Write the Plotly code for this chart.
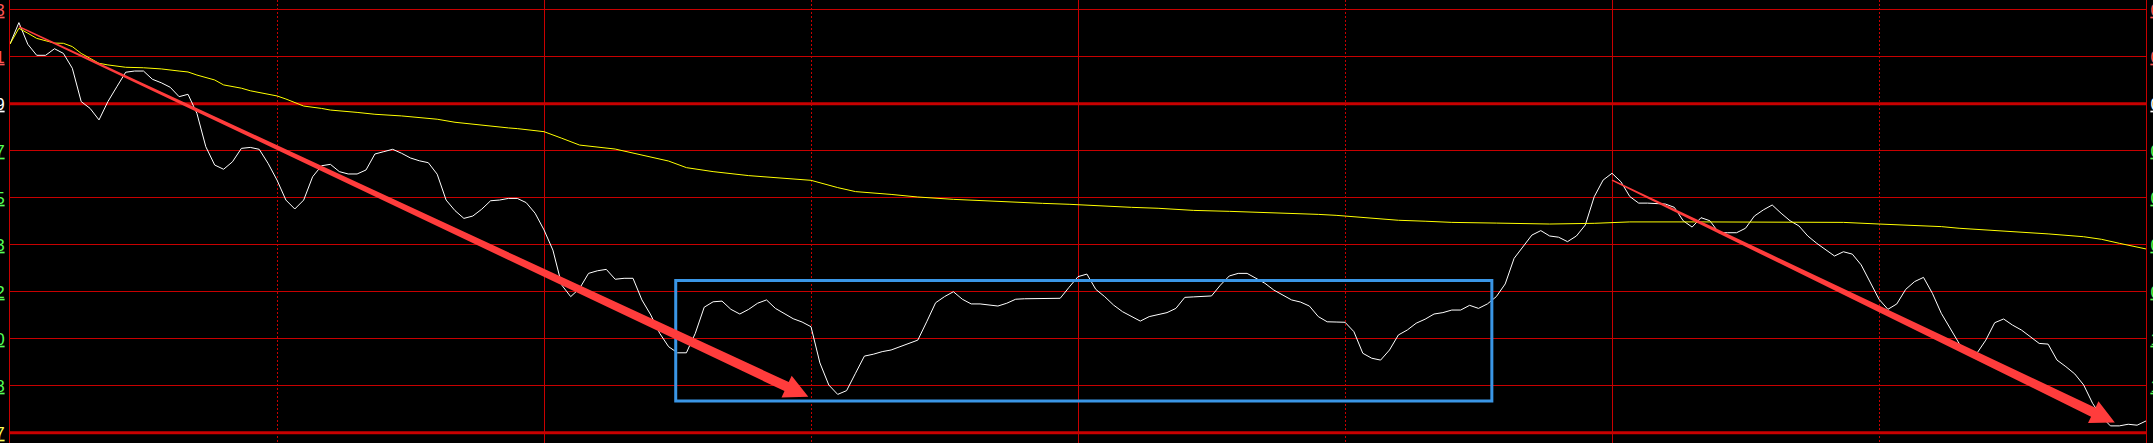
import math
import plotly.graph_objects as go

# ---------------- data ----------------
# minute index of the trading day (0 = open, 240 = close)
price_minutes = list(range(241))
price_values = [
    10.2154, 10.2245, 10.2153, 10.2106, 10.2106, 10.2134, 10.2114, 10.2051, 10.1909, 10.1880,
    10.1831, 10.1909, 10.1972, 10.2034, 10.2039, 10.2039, 10.2004, 10.1989, 10.1970, 10.1930,
    10.1940, 10.1859, 10.1717, 10.1639, 10.1621, 10.1653, 10.1710, 10.1714, 10.1706, 10.1646,
    10.1575, 10.1490, 10.1452, 10.1490, 10.1589, 10.1636, 10.1642, 10.1611, 10.1601, 10.1601,
    10.1618, 10.1686, 10.1696, 10.1706, 10.1689, 10.1669, 10.1657, 10.1649, 10.1600, 10.1490,
    10.1445, 10.1412, 10.1422, 10.1451, 10.1487, 10.1490, 10.1497, 10.1497, 10.1479, 10.1434,
    10.1363, 10.1277, 10.1128, 10.1079, 10.1114, 10.1178, 10.1189, 10.1195, 10.1153, 10.1157,
    10.1157, 10.1065, 10.1001, 10.0923, 10.0866, 10.0840, 10.0840, 10.0923, 10.1034, 10.1057,
    10.1060, 10.1025, 10.1005, 10.1025, 10.1051, 10.1065, 10.1029, 10.1008, 10.0985, 10.0971,
    10.0951, 10.0797, 10.0703, 10.0663, 10.0679, 10.0753, 10.0826, 10.0834, 10.0845, 10.0852,
    10.0866, 10.0877, 10.0894, 10.0972, 10.1053, 10.1079, 10.1100, 10.1068, 10.1048, 10.1048,
    10.1043, 10.1039, 10.1051, 10.1068, 10.1070, 10.1070, 10.1070, 10.1070, 10.1072, 10.1119,
    10.1164, 10.1175, 10.1110, 10.1079, 10.1043, 10.1015, 10.0994, 10.0975, 10.0994, 10.1001,
    10.1011, 10.1029, 10.1076, 10.1078, 10.1079, 10.1082, 10.1128, 10.1167, 10.1178, 10.1178,
    10.1157, 10.1136, 10.1107, 10.1086, 10.1065, 10.1056, 10.1039, 10.0994, 10.0972, 10.0971,
    10.0970, 10.0930, 10.0838, 10.0817, 10.0809, 10.0852, 10.0916, 10.0937, 10.0966, 10.0983,
    10.1005, 10.1011, 10.1022, 10.1022, 10.1042, 10.1029, 10.1048, 10.1079, 10.1133, 10.1242,
    10.1289, 10.1341, 10.1360, 10.1337, 10.1332, 10.1313, 10.1337, 10.1384, 10.1504, 10.1575,
    10.1604, 10.1568, 10.1505, 10.1477, 10.1477, 10.1476, 10.1473, 10.1459, 10.1402, 10.1375,
    10.1415, 10.1402, 10.1351, 10.1351, 10.1351, 10.1370, 10.1422, 10.1448, 10.1469, 10.1434,
    10.1402, 10.1380, 10.1337, 10.1306, 10.1277, 10.1252, 10.1270, 10.1260, 10.1214, 10.1143,
    10.1068, 10.1025, 10.1048, 10.1110, 10.1143, 10.1161, 10.1093, 10.1008, 10.0944, 10.0880,
    10.0831, 10.0838, 10.0894, 10.0968, 10.0984, 10.0958, 10.0937, 10.0908, 10.0880, 10.0877,
    10.0809, 10.0781, 10.0750, 10.0703, 10.0625, 10.0568, 10.0529, 10.0529, 10.0536, 10.0532,
    10.0550,
]

avg_minutes = [0, 1, 2, 3, 5, 6, 7, 8, 9, 10, 11, 13, 15, 17, 19, 20, 21, 23, 24, 26,
               27, 29, 30, 31, 32, 33, 35, 36, 39, 41, 44, 46, 48, 50, 53, 56, 57, 60, 62, 64,
               68, 71, 74, 76, 79, 83, 86, 90, 93, 95, 99, 102, 106, 111, 116, 119, 123, 126, 129, 131,
               133, 137, 141, 144, 147, 149, 152, 155, 156, 159, 162, 167, 173, 178, 182, 190, 206, 210, 213, 217,
               219, 222, 225, 229, 233, 235, 237, 240]
avg_values = [10.2154, 10.2221, 10.2200, 10.2178, 10.2158, 10.2157, 10.2143, 10.2114, 10.2093, 10.2072,
              10.2065, 10.2055, 10.2053, 10.2048, 10.2039, 10.2035, 10.2022, 10.2001, 10.1980, 10.1966,
              10.1955, 10.1941, 10.1933, 10.1920, 10.1904, 10.1890, 10.1880, 10.1873, 10.1863, 10.1855,
              10.1848, 10.1842, 10.1834, 10.1821, 10.1808, 10.1797, 10.1794, 10.1781, 10.1753, 10.1724,
              10.1707, 10.1682, 10.1656, 10.1628, 10.1611, 10.1594, 10.1585, 10.1574, 10.1543, 10.1526,
              10.1514, 10.1503, 10.1493, 10.1483, 10.1476, 10.1472, 10.1463, 10.1459, 10.1455, 10.1451,
              10.1446, 10.1442, 10.1438, 10.1434, 10.1429, 10.1425, 10.1417, 10.1408, 10.1404, 10.1400,
              10.1395, 10.1392, 10.1388, 10.1391, 10.1397, 10.1397, 10.1395, 10.1388, 10.1383, 10.1377,
              10.1370, 10.1363, 10.1355, 10.1346, 10.1334, 10.1323, 10.1306, 10.1282]

prev_close = 10.19
grid_prices = [10.23, 10.21, 10.19, 10.17, 10.15, 10.13, 10.11, 10.09, 10.07, 10.05]
left_tick_text = ["10.23", "10.21", "10.19", "10.17", "10.15", "10.13", "10.12", "10.10", "10.08", "10.07"]
right_tick_text = ["0.40%", "0.20%", "0.00%", "0.20%", "0.40%", "0.60%", "0.80%", "1.00%", "1.20%", ""]

# annotations drawn on the chart: (start minute, start price, end minute, end price)
arrow_1 = (1, 10.2228, 89.7, 10.0653)
arrow_2 = (180, 10.1575, 236.5, 10.0543)
box_minutes = (74.8, 166.5)
box_prices = (10.0635, 10.1148)

# ---------------- styling ----------------
W, H = 2153, 443
ML, MR, MT, MB = 10, 7, 0, 0
x_range = [0, 240]
y_range = [10.04562, 10.23413]
GRID = "#c80000"
RED_T, WHITE_T, GREEN_T, YEL_T = "#ff5555", "#ffffff", "#55ff55", "#ffff55"
left_colors = [RED_T, RED_T, WHITE_T] + [GREEN_T] * 6 + [YEL_T]
right_colors = [RED_T, RED_T, WHITE_T] + [GREEN_T] * 7

plot_w = W - ML - MR
plot_h = H - MT - MB
kx = plot_w / (x_range[1] - x_range[0])
ky = plot_h / (y_range[1] - y_range[0])


def to_px(t, p):
    return (t - x_range[0]) * kx, (p - y_range[0]) * ky


def to_data(x, y):
    return x / kx + x_range[0], y / ky + y_range[0]


def arrow_path(a, w0=1.5, w1=10.0, head_len=24.0, head_half=12.0):
    t0, p0, t1, p1 = a
    x0, y0 = to_px(t0, p0)
    x1, y1 = to_px(t1, p1)
    dx, dy = x1 - x0, y1 - y0
    L = math.hypot(dx, dy)
    ux, uy = dx / L, dy / L
    nx, ny = -uy, ux
    bx, by = x1 - ux * head_len, y1 - uy * head_len
    pts = [
        (x0 + nx * w0 / 2, y0 + ny * w0 / 2),
        (bx + nx * w1 / 2, by + ny * w1 / 2),
        (bx + nx * head_half, by + ny * head_half),
        (x1, y1),
        (bx - nx * head_half, by - ny * head_half),
        (bx - nx * w1 / 2, by - ny * w1 / 2),
        (x0 - nx * w0 / 2, y0 - ny * w0 / 2),
    ]
    d = []
    for i, (x, y) in enumerate(pts):
        t, p = to_data(x, y)
        d.append(("M" if i == 0 else "L") + f"{t:.5f},{p:.6f}")
    return " ".join(d) + " Z"


def styled(texts, colors):
    return [f'<span style="color:{c}"><u>{t}</u></span>' if t else "" for t, c in zip(texts, colors)]


fig = go.Figure()
fig.add_trace(go.Scatter(x=price_minutes, y=price_values, mode="lines",
                         line=dict(color="#ffffff", width=1), hoverinfo="skip", showlegend=False))
fig.add_trace(go.Scatter(x=avg_minutes, y=avg_values, mode="lines", yaxis="y2",
                         line=dict(color="#ffff00", width=1), hoverinfo="skip", showlegend=False))

shapes = []
for level in (prev_close, grid_prices[-1]):
    shapes.append(dict(type="line", xref="paper", x0=0, x1=1, yref="y", y0=level, y1=level,
                       line=dict(color=GRID, width=3), layer="between"))
shapes.append(dict(type="rect", xref="x", yref="y", x0=box_minutes[0], x1=box_minutes[1],
                   y0=box_prices[0], y1=box_prices[1], line=dict(color="#3a96e6", width=3),
                   fillcolor="rgba(0,0,0,0)", layer="above"))
for a in (arrow_1, arrow_2):
    shapes.append(dict(type="path", xref="x", yref="y", path=arrow_path(a),
                       fillcolor="#ff3c3c", line=dict(width=0), layer="above"))

tick_font = dict(family="Liberation Sans", size=17, color="#ffffff")
fig.update_layout(
    width=W, height=H, template="none",
    margin=dict(l=ML, r=MR, t=MT, b=MB, pad=0),
    paper_bgcolor="#000000", plot_bgcolor="#000000",
    showlegend=False, shapes=shapes,
    xaxis=dict(range=x_range, showticklabels=False, ticks="", zeroline=False,
               tick0=0, dtick=60, showgrid=True, gridcolor=GRID, gridwidth=1,
               minor=dict(tick0=0, dtick=30, showgrid=True, gridcolor=GRID, gridwidth=1,
                          griddash="2px,2px", ticks=""),
               showline=False, automargin=False),
    yaxis=dict(range=y_range, tickmode="array", tickvals=grid_prices,
               ticktext=styled(left_tick_text, left_colors), tickfont=tick_font,
               ticks="", showgrid=True, gridcolor=GRID, gridwidth=1, zeroline=False,
               showline=True, linecolor=GRID, linewidth=1, automargin=False,
               ticklabelstandoff=1),
    yaxis2=dict(range=y_range, overlaying="y", side="right", tickmode="array",
                tickvals=grid_prices, ticktext=styled(right_tick_text, right_colors),
                tickfont=tick_font, ticks="", showgrid=False, zeroline=False,
                showline=True, linecolor=GRID, linewidth=1, automargin=False,
                ticklabelstandoff=0),
)

fig.write_html("out.html", config={"displayModeBar": False},
               post_script="document.body.style.margin='0';document.body.style.overflow='hidden';")
